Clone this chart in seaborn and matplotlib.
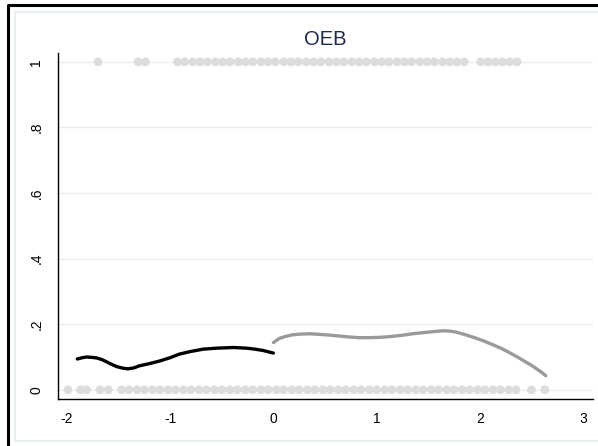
import matplotlib
matplotlib.use("Agg")
import matplotlib.pyplot as plt
from matplotlib.lines import Line2D
import seaborn as sns
import pandas as pd

sns.set_theme(style="white")
plt.rcParams["font.family"] = ["Liberation Sans", "DejaVu Sans"]

# Observed 0/1 outcomes along the running variable
x_ones = [-1.70, -1.31, -1.24,
          -0.93, -0.86, -0.78, -0.71, -0.64, -0.56, -0.49, -0.42, -0.34, -0.27,
          -0.20, -0.12, -0.05, 0.02, 0.10, 0.17, 0.24, 0.32, 0.39, 0.46, 0.54,
          0.61, 0.68, 0.76, 0.83, 0.90, 0.98, 1.05, 1.12, 1.20, 1.27, 1.34,
          1.42, 1.49, 1.56, 1.64, 1.71, 1.78, 1.85,
          2.01, 2.08, 2.15, 2.22, 2.29, 2.36]
x_zeros = [-1.99, -1.87, -1.81, -1.68, -1.60,
           -1.47, -1.40, -1.32, -1.25, -1.17, -1.10, -1.02, -0.95, -0.87, -0.80,
           -0.72, -0.65, -0.57, -0.50, -0.42, -0.35, -0.27, -0.20, -0.12, -0.05,
           0.03, 0.10, 0.18, 0.25, 0.33, 0.40, 0.48, 0.55, 0.63, 0.70, 0.78,
           0.85, 0.93, 1.00, 1.08, 1.15, 1.23, 1.30, 1.38, 1.45, 1.53, 1.60,
           1.68, 1.75, 1.83, 1.90, 1.98, 2.05, 2.13, 2.20, 2.28, 2.35,
           2.50, 2.63]

# Local smooth below the cutoff
left_x = [-1.90, -1.85, -1.81, -1.76, -1.71, -1.66, -1.62, -1.57, -1.52,
          -1.46, -1.41, -1.35, -1.30, -1.20, -1.10, -1.00, -0.91, -0.80,
          -0.68, -0.55, -0.39, -0.26, -0.18, -0.10, -0.05, 0.00]
left_y = [0.094, 0.098, 0.100, 0.099, 0.097, 0.092, 0.086, 0.078, 0.071,
          0.066, 0.064, 0.067, 0.073, 0.080, 0.088, 0.098, 0.109, 0.117,
          0.124, 0.127, 0.129, 0.127, 0.124, 0.120, 0.116, 0.112]

# Local smooth above the cutoff
right_x = [0.00, 0.06, 0.12, 0.19, 0.27, 0.35, 0.45, 0.54, 0.64, 0.74,
           0.83, 0.93, 1.03, 1.12, 1.24, 1.35, 1.50, 1.64, 1.71, 1.77,
           1.85, 1.93, 2.03, 2.13, 2.21, 2.29, 2.37, 2.45, 2.50, 2.55,
           2.60, 2.64]
right_y = [0.144, 0.157, 0.163, 0.168, 0.170, 0.171, 0.169, 0.167, 0.164,
           0.161, 0.159, 0.159, 0.160, 0.162, 0.166, 0.171, 0.176, 0.180,
           0.179, 0.176, 0.169, 0.161, 0.150, 0.137, 0.126, 0.113, 0.099,
           0.084, 0.075, 0.064, 0.053, 0.043]

title = "OEB"
xticks = [-2, -1, 0, 1, 2, 3]
yticks = [0, 0.2, 0.4, 0.6, 0.8, 1]
yticklabels = ["0", ".2", ".4", ".6", ".8", "1"]

dots = pd.DataFrame({"x": x_ones + x_zeros,
                     "y": [1] * len(x_ones) + [0] * len(x_zeros)})
left = pd.DataFrame({"x": left_x, "y": left_y})
right = pd.DataFrame({"x": right_x, "y": right_y})

W, H = 598, 446
fig = plt.figure(figsize=(W / 100, H / 100), dpi=100)
fig.patch.set_facecolor("white")
ax = fig.add_axes([58 / W, 1 - 399 / H, (593 - 58) / W, (399 - 53) / H])

for t in yticks:
    ax.axhline(t, color="#e6eef0", lw=1.0, zorder=0)

sns.scatterplot(data=dots, x="x", y="y", ax=ax, color="#dcdcdc", s=40,
                edgecolor="none", linewidth=0, zorder=2, legend=False)
sns.lineplot(data=left, x="x", y="y", ax=ax, color="black", lw=2.4,
             sort=False, estimator=None, zorder=3,
             solid_capstyle="round", solid_joinstyle="round")
sns.lineplot(data=right, x="x", y="y", ax=ax, color="#9a9a9a", lw=2.4,
             sort=False, estimator=None, zorder=3,
             solid_capstyle="round", solid_joinstyle="round")

ax.set_xlim(-2.087, 3.097)
ax.set_ylim(-0.028, 1.027)
ax.set_xticks(xticks)
ax.set_xticklabels([str(v) for v in xticks])
ax.set_yticks(yticks)
ax.set_yticklabels(yticklabels, rotation=90, va="center")
ax.set_xlabel("")
ax.set_ylabel("")
ax.tick_params(axis="both", direction="out", length=4.5, width=0.8,
               color="black", labelsize=10, labelcolor="black")
ax.tick_params(axis="x", pad=5)
ax.tick_params(axis="y", pad=6)
for side in ("top", "right"):
    ax.spines[side].set_visible(False)
for side in ("left", "bottom"):
    ax.spines[side].set_color("black")
    ax.spines[side].set_linewidth(1.0)
ax.set_facecolor("none")

ax.set_title(title, fontsize=14.5, color="#1c2b4a", pad=6)

# Graph region outlines
def fx(px):
    return px / W

def fy(py):
    return 1 - py / H

inner = [(15, 12), (605, 12), (605, 441), (15, 441), (15, 12)]
fig.add_artist(Line2D([fx(p[0]) for p in inner], [fy(p[1]) for p in inner],
                      color="#e4ecee", lw=1.2))
fig.add_artist(Line2D([fx(8), fx(8), fx(605)], [fy(460), fy(5), fy(5)],
                      color="black", lw=2.2))

fig.savefig("out.png", dpi=100)
